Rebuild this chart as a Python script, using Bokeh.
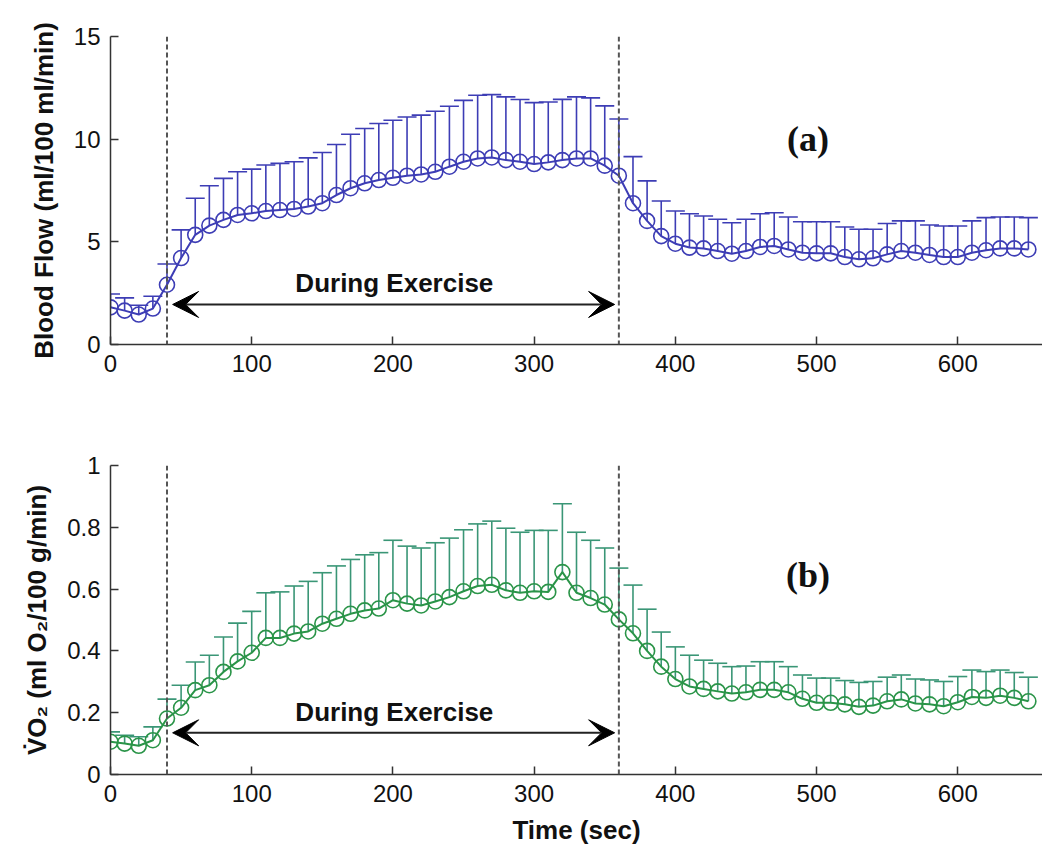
from bokeh.plotting import figure
from bokeh.models import (ColumnDataSource, Range1d, FixedTicker, Span, Label,
                          Arrow, VeeHead, Whisker, TeeHead, CustomJSTickFormatter)
from bokeh.layouts import column
from bokeh.embed import file_html
from bokeh.resources import INLINE

# ---------------- data ----------------
time_s = [0, 10, 20, 30, 40, 50, 60, 70, 80, 90, 100, 110, 120, 130, 140, 150,
          160, 170, 180, 190, 200, 210, 220, 230, 240, 250, 260, 270, 280, 290,
          300, 310, 320, 330, 340, 350, 360, 370, 380, 390, 400, 410, 420, 430,
          440, 450, 460, 470, 480, 490, 500, 510, 520, 530, 540, 550, 560, 570,
          580, 590, 600, 610, 620, 630, 640, 650]

blood_flow = [1.81, 1.65, 1.46, 1.75, 2.91, 4.21, 5.34, 5.79, 6.07, 6.31, 6.39,
              6.50, 6.55, 6.60, 6.72, 6.88, 7.28, 7.61, 7.85, 8.01, 8.12, 8.22,
              8.28, 8.41, 8.66, 8.90, 9.06, 9.11, 8.98, 8.90, 8.79, 8.87, 8.98,
              9.06, 9.06, 8.71, 8.22, 6.88, 6.02, 5.28, 4.91, 4.72, 4.68, 4.55,
              4.42, 4.55, 4.75, 4.80, 4.63, 4.47, 4.44, 4.44, 4.26, 4.15, 4.20,
              4.39, 4.55, 4.47, 4.36, 4.26, 4.26, 4.47, 4.59, 4.68, 4.68, 4.63]

blood_flow_sd = [0.65, 0.62, 0.45, 0.60, 1.01, 1.37, 1.78, 1.94, 2.02, 2.10, 2.15,
                 2.24, 2.27, 2.30, 2.37, 2.47, 2.46, 2.63, 2.67, 2.75, 2.80, 2.86,
                 2.89, 2.95, 2.94, 2.99, 3.08, 3.06, 3.08, 3.03, 2.99, 2.94, 2.96,
                 3.00, 2.95, 2.91, 2.76, 2.27, 1.95, 1.71, 1.59, 1.65, 1.58, 1.55,
                 1.51, 1.55, 1.62, 1.62, 1.58, 1.51, 1.54, 1.54, 1.46, 1.46, 1.41,
                 1.50, 1.47, 1.55, 1.46, 1.51, 1.51, 1.55, 1.59, 1.53, 1.53, 1.55]

vo2 = [0.106, 0.100, 0.093, 0.111, 0.181, 0.216, 0.273, 0.289, 0.332, 0.366,
       0.394, 0.442, 0.442, 0.456, 0.463, 0.488, 0.504, 0.520, 0.531, 0.537,
       0.564, 0.553, 0.547, 0.560, 0.574, 0.593, 0.610, 0.614, 0.596, 0.588,
       0.593, 0.591, 0.655, 0.588, 0.571, 0.550, 0.502, 0.457, 0.400, 0.349,
       0.309, 0.285, 0.277, 0.269, 0.262, 0.266, 0.274, 0.274, 0.266, 0.245,
       0.232, 0.232, 0.227, 0.219, 0.223, 0.237, 0.243, 0.230, 0.227, 0.221,
       0.234, 0.251, 0.248, 0.255, 0.248, 0.237]

vo2_sd = [0.032, 0.027, 0.029, 0.043, 0.063, 0.073, 0.091, 0.097, 0.113, 0.124,
          0.134, 0.146, 0.149, 0.154, 0.162, 0.165, 0.171, 0.176, 0.180, 0.181,
          0.194, 0.186, 0.186, 0.190, 0.191, 0.199, 0.201, 0.206, 0.201, 0.196,
          0.197, 0.199, 0.221, 0.196, 0.187, 0.183, 0.166, 0.156, 0.135, 0.112,
          0.104, 0.101, 0.093, 0.091, 0.087, 0.085, 0.091, 0.091, 0.083, 0.077,
          0.080, 0.080, 0.077, 0.079, 0.078, 0.078, 0.079, 0.079, 0.079, 0.080,
          0.083, 0.087, 0.085, 0.083, 0.082, 0.078]

exercise_start = 40
exercise_end = 360

bf_ticks = [0, 5, 10, 15]
vo2_ticks = [0, 0.2, 0.4, 0.6, 0.8, 1]
time_ticks = [0, 100, 200, 300, 400, 500, 600]

# ---------------- styles ----------------
BLUE = "#3d3db5"
GREEN_MARK = "#2a9448"
GREEN_BAR = "#3a9676"
AXIS_COL = "#333333"
TICK_FONT = "Liberation Sans"


def style_axes(p, yticks):
    for ax in (p.xaxis[0], p.yaxis[0]):
        ax.axis_line_color = AXIS_COL
        ax.axis_line_width = 1.5
        ax.major_tick_line_color = AXIS_COL
        ax.major_tick_line_width = 1.5
        ax.major_tick_in = 8
        ax.major_tick_out = 0
        ax.minor_tick_line_color = None
        ax.major_label_text_font = TICK_FONT
        ax.major_label_text_font_size = "24px"
        ax.major_label_text_color = "#111111"
        ax.axis_label_text_font = TICK_FONT
        ax.axis_label_text_font_style = "bold"
        ax.axis_label_text_font_size = "26px"
        ax.axis_label_text_color = "#111111"
    p.xaxis[0].ticker = FixedTicker(ticks=time_ticks)
    p.yaxis[0].ticker = FixedTicker(ticks=yticks)
    p.yaxis[0].formatter = CustomJSTickFormatter(code="return String(tick);")
    p.xaxis[0].major_label_standoff = 10
    p.yaxis[0].major_label_standoff = 10
    p.xgrid.visible = False
    p.ygrid.visible = False
    p.outline_line_color = None


def draw_series(p, mean, sd, bar_color, mark_color):
    upper = [m + s for m, s in zip(mean, sd)]
    src = ColumnDataSource(dict(t=time_s, m=mean, up=upper))
    w = Whisker(source=src, base="t", lower="m", upper="up", dimension="height",
                line_color=bar_color, line_width=1.6,
                upper_head=TeeHead(size=19, line_color=bar_color, line_width=1.6),
                lower_head=None)
    p.add_layout(w)
    p.line("t", "m", source=src, line_color=mark_color, line_width=2)
    p.scatter("t", "m", source=src, marker="circle", size=15,
              fill_color=None, line_color=mark_color, line_width=1.6)


def add_exercise(p, y_arrow, y_text):
    for loc in (exercise_start, exercise_end):
        p.add_layout(Span(location=loc, dimension="height", line_color="#555555",
                          line_width=2, line_dash="5 3"))
    head = dict(size=26, fill_color="black", line_color="black", line_width=1)
    p.add_layout(Arrow(start=VeeHead(**head), end=VeeHead(**head),
                       x_start=exercise_start + 4, x_end=exercise_end - 3,
                       y_start=y_arrow, y_end=y_arrow,
                       line_color="#222222", line_width=2))
    p.add_layout(Label(x=(exercise_start + exercise_end) / 2 + 1, y=y_text,
                       text="During Exercise", text_align="center",
                       text_baseline="middle", text_font=TICK_FONT,
                       text_font_style="bold", text_font_size="26px",
                       text_color="#111111"))


# ---------------- top panel ----------------
p1 = figure(width=1042, height=410, output_backend="svg", toolbar_location=None,
            x_range=Range1d(0, 660), y_range=Range1d(0, 15),
            min_border_left=110, min_border_right=0, min_border_top=36,
            min_border_bottom=66)
style_axes(p1, bf_ticks)
p1.yaxis[0].axis_label = "Blood Flow (ml/100 ml/min)"
p1.yaxis[0].axis_label_standoff = 12
p1.xaxis[0].axis_label = None
add_exercise(p1, 1.95, 3.0)
draw_series(p1, blood_flow, blood_flow_sd, BLUE, BLUE)
p1.add_layout(Label(x=494, y=10.0, text="(a)", text_align="center",
                    text_baseline="middle", text_font="Liberation Serif",
                    text_font_style="bold", text_font_size="36px",
                    text_color="#111111"))

# ---------------- bottom panel ----------------
p2 = figure(width=1042, height=437, output_backend="svg", toolbar_location=None,
            x_range=Range1d(0, 660), y_range=Range1d(0, 1),
            min_border_left=110, min_border_right=0, min_border_top=55,
            min_border_bottom=72)
style_axes(p2, vo2_ticks)
p2.yaxis[0].axis_label = "V\u0307O\u2082 (ml O\u2082/100 g/min)"
p2.yaxis[0].axis_label_standoff = 12
p2.xaxis[0].axis_label = "Time (sec)"
p2.xaxis[0].axis_label_standoff = 10
add_exercise(p2, 0.135, 0.203)
draw_series(p2, vo2, vo2_sd, GREEN_BAR, GREEN_MARK)
p2.add_layout(Label(x=494, y=0.645, text="(b)", text_align="center",
                    text_baseline="middle", text_font="Liberation Serif",
                    text_font_style="bold", text_font_size="36px",
                    text_color="#111111"))

layout = column(p1, p2, spacing=0)
open("out.html", "w").write(file_html(layout, INLINE))
